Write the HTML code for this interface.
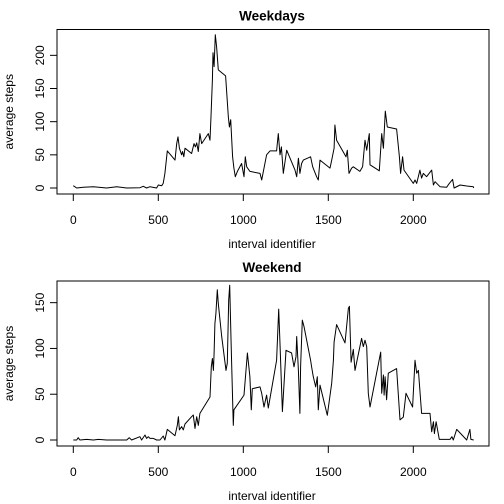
<!DOCTYPE html>
<html><head><meta charset="utf-8"><style>
html,body{margin:0;padding:0;background:#fff}
svg{display:block;font-family:"Liberation Sans",Arial,sans-serif}
</style></head><body>
<svg id="chart" width="504" height="504" viewBox="0 0 504 504"></svg>
<script>
const weekdayIntervals=[0,20,59,118,196,255,314,392,412,431,451,490,500,520,529,539,553,598,608,616,624,637,643,650,657,696,710,718,726,735,745,755,794,804,810,818,822,828,835,843,853,896,912,918,926,937,945,953,965,990,1004,1012,1020,1039,1098,1108,1137,1157,1196,1206,1216,1224,1235,1255,1304,1314,1324,1333,1343,1353,1396,1408,1431,1441,1451,1510,1520,1534,1539,1549,1604,1612,1622,1637,1647,1686,1702,1716,1726,1741,1745,1775,1800,1814,1824,1835,1847,1902,1918,1925,1937,1945,2000,2010,2020,2039,2049,2059,2078,2108,2118,2128,2157,2196,2212,2231,2240,2275,2314,2353,2355];
const weekdaySteps=[3.5,0,1,2,0,2,0,0.5,2.5,0,2,0,4.5,3.5,7,22,56,42,67,77,60,50,55,47,60,52,67,62,68,55,82,67,82,72,108,163,204,183,231,213,178,169,108,92,103,47,30,17,25,37,17,47,32,25,22,12,50,56,56,82,50,62,22,57,27,17,45,22,37,42,47,32,17,12,42,30,42,60,95,72,47,57,22,30,32,25,32,72,57,82,35,30,26,82,60,116,92,89,47,22,47,27,7,12,7,27,15,22,17,27,4.5,9.5,2,1,7,13,0,4.5,3,2,0];
const weekendIntervals=[0,20,29,39,78,118,147,196,314,329,343,392,402,422,431,441,451,471,490,510,529,539,553,598,612,618,624,637,647,657,696,706,716,726,735,745,804,812,818,824,828,833,839,847,853,873,898,906,914,920,928,941,945,1004,1024,1039,1047,1053,1098,1108,1122,1137,1147,1196,1208,1216,1230,1251,1284,1298,1310,1314,1324,1333,1337,1347,1357,1396,1402,1412,1426,1435,1441,1451,1494,1520,1530,1534,1549,1598,1618,1624,1634,1647,1657,1696,1706,1716,1726,1735,1745,1808,1814,1824,1828,1834,1843,1853,1902,1922,1941,1957,1996,2010,2020,2030,2049,2098,2108,2118,2124,2134,2153,2216,2227,2235,2255,2314,2333,2339,2355];
const weekendSteps=[0,0,2.5,0,0.7,0,0.7,0,0,2.5,0,3.6,0,5.5,1.8,3.6,1.8,1.8,0,0,4.4,0,11.6,4.7,16,25.5,11,14.6,11,17.5,25.5,27.3,12.7,25.5,16,29,47,80,89,76,95,127,138,164,149,113,76,84,153,169,106,16,33,49,95,69,33,56,58,51,36,49,35,87,143,105,31,98,95,80,91,113,76,29,80,131,124,87,80,69,58,69,33,60,27,62,87,107,126,106,144,146,85,99,76,111,102,109,102,51,36,96,51,71,49,69,44,73,78,22,25,51,36,87,73,76,29,29,9,20,7,20,0.7,0.7,3.6,0,11.6,0,11.6,0.7,0];
const xTicks=[0,500,1000,1500,2000];
const weekdayYTicks=[0,50,100,150,200];
const weekendYTicks=[0,50,100,150];

const svg=document.getElementById('chart');
const NS='http://www.w3.org/2000/svg';
function mk(tag,attrs,parent){const e=document.createElementNS(NS,tag);for(const k in attrs)e.setAttribute(k,attrs[k]);(parent||svg).appendChild(e);return e;}
const xScale=v=>73.3+v*0.17;

function panel(key,title,xs,ys,yTicks,y0,ppu,boxTop,boxBot){
  const g=mk('g',{});
  
  
  const yScale=v=>y0-v*ppu;
  const t=mk('text',{x:272,y:boxTop-9,'text-anchor':'middle','font-size':'13.5','font-weight':'bold'},g);
  t.textContent=title;
  
  
  const box=mk('rect',{x:57,y:boxTop,width:432,height:boxBot-boxTop,fill:'none',stroke:'#000','stroke-width':1},g);
  
  
  // x axis
  const xa=mk('g',{},g);
  
  
  mk('line',{x1:xScale(xTicks[0]),x2:xScale(xTicks[xTicks.length-1]),y1:boxBot,y2:boxBot,stroke:'#000'},xa);
  xTicks.forEach(v=>{
    mk('line',{x1:xScale(v),x2:xScale(v),y1:boxBot,y2:boxBot+7,stroke:'#000'},xa);
    const l=mk('text',{x:xScale(v),y:boxBot+30,'text-anchor':'middle','font-size':'12'},xa);
    l.textContent=v;
    
    
  });
  const xt=mk('text',{x:272,y:boxBot+54,'text-anchor':'middle','font-size':'12'},g);
  xt.textContent='interval identifier';
  
  
  // y axis
  const ya=mk('g',{},g);
  
  
  mk('line',{x1:57,x2:57,y1:yScale(yTicks[0]),y2:yScale(yTicks[yTicks.length-1]),stroke:'#000'},ya);
  yTicks.forEach(v=>{
    const y=yScale(v);
    mk('line',{x1:50,x2:57,y1:y,y2:y,stroke:'#000'},ya);
    const l=mk('text',{x:44,y:y,'text-anchor':'middle','font-size':'12',transform:`rotate(-90 44 ${y})`},ya);
    l.textContent=v;
    
    
  });
  const cy=(boxTop+boxBot)/2;
  const yt=mk('text',{x:13,y:cy,'text-anchor':'middle','font-size':'12',transform:`rotate(-90 13 ${cy})`},g);
  yt.textContent='average steps';
  
  
  const d=xs.map((x,i)=>(i?'L':'M')+xScale(x).toFixed(1)+' '+yScale(ys[i]).toFixed(1)).join(' ');
  const p=mk('path',{d:d,fill:'none',stroke:'#000','stroke-width':1,'stroke-linejoin':'round'},g);
  
  
}
panel('weekdays','Weekdays',weekdayIntervals,weekdaySteps,weekdayYTicks,188,0.6633,29.5,194);
panel('weekend','Weekend',weekendIntervals,weekendSteps,weekendYTicks,440,0.9156,281,446);
</script>
</body></html>
